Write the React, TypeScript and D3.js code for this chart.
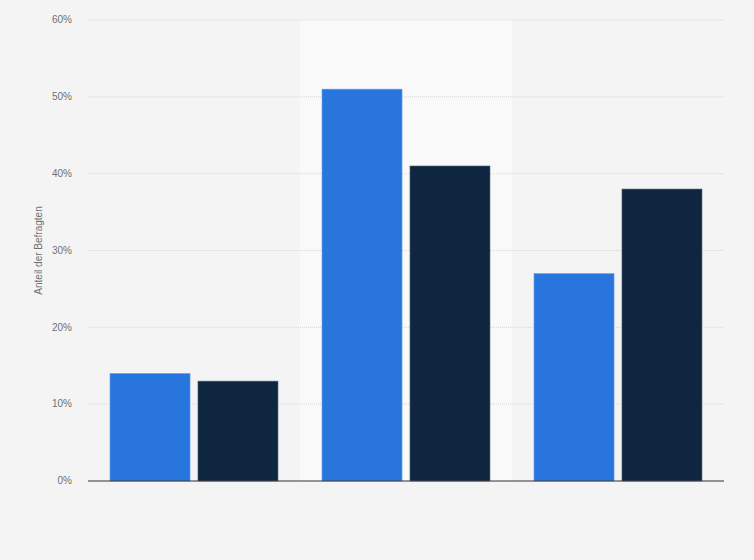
import React from "react";
import * as d3 from "d3";

// three answer groups (no labels shown in the chart)
const categories = ["A", "B", "C"];
const seriesKeys = ["serie1", "serie2"];
const serie1 = [14, 51, 27];
const serie2 = [13, 41, 38];
const yTicks = [0, 10, 20, 30, 40, 50, 60];

const colors: Record<string, string> = { serie1: "#2876dd", serie2: "#0f2640" };
const strokes: Record<string, string> = { serie1: "#6aa3ec", serie2: "#5a6b7d" };

const width = 754;
const height = 560;
const margin = { top: 20, right: 30, bottom: 79, left: 88 };

export default function App() {
  const innerW = width - margin.left - margin.right;
  const innerH = height - margin.top - margin.bottom;

  const x = d3.scaleBand<string>().domain(categories).range([0, innerW]).padding(0);
  const xInner = d3
    .scaleBand<string>()
    .domain(seriesKeys)
    .range([22, x.bandwidth() - 22])
    .paddingInner(0.09);
  const y = d3.scaleLinear().domain([0, 60]).range([innerH, 0]);

  const rows = categories.map((c, i) => ({ cat: c, serie1: serie1[i], serie2: serie2[i] }));

  return (
    <svg
      width={width}
      height={height}
      style={{ position: "absolute", left: 0, top: 0, fontFamily: "'Liberation Sans', Arial, sans-serif" }}
    >
      <rect width={width} height={height} fill="#f4f4f4" />
      <g transform={`translate(${margin.left},${margin.top})`}>
        {/* highlighted middle group */}
        <rect x={x(categories[1])} y={0} width={x.bandwidth()} height={innerH} fill="#f9f9f9" />

        {yTicks.map((t) => (
          <g key={t}>
            {t > 0 && (
              <line
                x1={0}
                x2={innerW}
                y1={y(t)}
                y2={y(t)}
                stroke="#d6d6d6"
                strokeWidth={1}
                strokeDasharray="1,1"
              />
            )}
            <text x={-16} y={y(t)} dy="0.32em" textAnchor="end" fontSize={10} fill="#707070">
              {t}%
            </text>
          </g>
        ))}

        {rows.map((r) => (
          <g key={r.cat} transform={`translate(${x(r.cat)},0)`}>
            {seriesKeys.map((k) => {
              const v = (r as any)[k] as number;
              return (
                <rect
                  key={k}
                  x={xInner(k)}
                  y={y(v)}
                  width={xInner.bandwidth()}
                  height={innerH - y(v)}
                  fill={colors[k]}
                  stroke={strokes[k]}
                  strokeWidth={0.6}
                />
              );
            })}
          </g>
        ))}

        <line x1={0} x2={innerW} y1={innerH} y2={innerH} stroke="#333" strokeWidth={1.2} />

        <text
          transform={`translate(${-46},${innerH / 2}) rotate(-90)`}
          textAnchor="middle"
          fontSize={10}
          fill="#707070"
        >
          Anteil der Befragten
        </text>
      </g>
    </svg>
  );
}
